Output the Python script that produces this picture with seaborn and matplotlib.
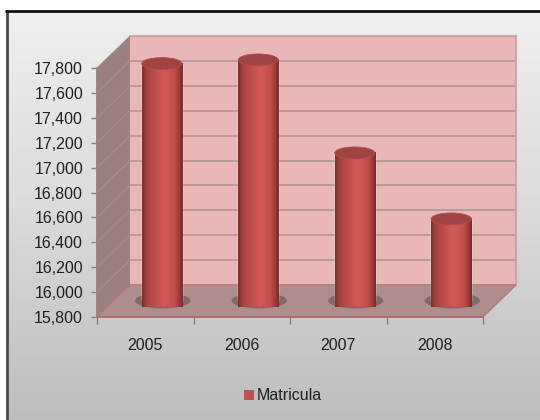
import numpy as np
import pandas as pd
import matplotlib
matplotlib.use("Agg")
import matplotlib.pyplot as plt
from matplotlib.patches import Ellipse, Polygon, Rectangle
from matplotlib.path import Path
from matplotlib.transforms import IdentityTransform
from matplotlib.colors import LinearSegmentedColormap
import seaborn as sns

years = ["2005", "2006", "2007", "2008"]
matricula = [17707, 17736, 16989, 16459]
y_ticks = list(range(15800, 17801, 200))
y_min, y_max = 15800, 17800

W, H = 540, 420

sns.set_theme(style="white")
plt.rcParams['font.family'] = ['Liberation Sans', 'DejaVu Sans']

df = pd.DataFrame({"year": years, "Matricula": matricula})

fig = plt.figure(figsize=(W / 100, H / 100), dpi=100, facecolor="white")


def px_axes(x0, y0, x1, y1, **kw):
    # pixel box measured from the top left of the picture
    return fig.add_axes([x0 / W, 1 - y1 / H, (x1 - x0) / W, (y1 - y0) / H], **kw)


# front plane of the 3d box and how far the back wall sits behind it
left, right, top, bottom = 97, 483, 68, 317
dx, dy = 33, 32

# background panel
bg = px_axes(0, 0, W, H)
bg.axis("off")
grey = LinearSegmentedColormap.from_list("panel", ["#eeefef", "#d9dada", "#bdbdbd"])
bg.imshow(np.linspace(0, 1, 256).reshape(-1, 1), cmap=grey, aspect="auto",
          extent=(7, 540, 420, 11), zorder=0)
bg.set_xlim(0, W)
bg.set_ylim(H, 0)
bg.plot([6.5, 6.5], [420, 10.5], color="#4a4a4a", lw=2, zorder=1)
bg.plot([6, 540], [10.5, 10.5], color="#111111", lw=2, zorder=1)

# back wall
ax_back = px_axes(left + dx, top - dy, right + dx, bottom - dy)
ax_back.set_facecolor("#e9b7b7")
ax_back.set_ylim(y_min, y_max)
ax_back.set_xlim(0, 1)
ax_back.set_yticks(y_ticks)
ax_back.set_xticks([])
ax_back.tick_params(left=False, labelleft=False)
ax_back.grid(axis="y", color="#b29494", lw=1.2)
ax_back.set_axisbelow(True)
for s in ax_back.spines.values():
    s.set_visible(False)
for s in ["top", "right"]:
    ax_back.spines[s].set_visible(True)
    ax_back.spines[s].set_color("#cc9f9f")

# side wall and floor, with the gridlines running back along the wall
scale = (bottom - top) / (y_max - y_min)
bg.add_patch(Polygon([(left, top), (left + dx, top - dy), (left + dx, bottom - dy), (left, bottom)],
                     closed=True, facecolor="#9c7f7f", edgecolor="#a58787", lw=0.6, zorder=2))
for t in y_ticks[1:-1]:
    yy = bottom - (t - y_min) * scale
    bg.plot([left, left + dx], [yy, yy - dy], color="#a98d8d", lw=0.8, zorder=3)
bg.set_zorder(0)
ax_back.set_zorder(1)

ax_floor = px_axes(0, 0, W, H)
ax_floor.set_xlim(0, W)
ax_floor.set_ylim(H, 0)
ax_floor.axis("off")
ax_floor.set_zorder(2)
ax_floor.add_patch(Polygon([(left, bottom), (right, bottom), (right + dx, bottom - dy), (left + dx, bottom - dy)],
                           closed=True, facecolor="#b08d8d", edgecolor="#b5797c", lw=0.9))

# front axes carries the ticks and labels
ax = px_axes(left, top, right, bottom)
ax.set_zorder(3)
ax.patch.set_alpha(0)
ax.set_xlim(-0.5, 3.5)
ax.set_ylim(y_min, y_max)
ax.set_yticks(y_ticks)
ax.set_yticklabels([f"{t:,}" for t in y_ticks], fontsize=11.5, color="#1f1f1f")
ax.set_xticks(range(4))
ax.set_xticklabels(years, fontsize=11.5, color="#1f1f1f")
ax.set_xticks(np.arange(-0.5, 4), minor=True)
ax.tick_params(axis="x", which="major", length=0, pad=15)
ax.tick_params(axis="x", which="minor", length=5, width=1, color="#808080", bottom=True)
ax.tick_params(axis="y", length=4, width=1, color="#808080", left=True, pad=6)
for s in ["top", "right"]:
    ax.spines[s].set_visible(False)
ax.spines["left"].set_color("#9a8080")
ax.spines["bottom"].set_color("#b5696d")
ax.spines["bottom"].set_linewidth(1.2)

# cylinders stand in the middle of the depth
ax_bar = px_axes(left + dx / 2, top - dy / 2, right + dx / 2, bottom - dy / 2)
ax_bar.set_zorder(4)
ax_bar.patch.set_alpha(0)
sns.barplot(data=df, x="year", y="Matricula", color="#c0504d", width=0.415,
            saturation=1, ax=ax_bar, label="Matricula")
handles, labels = ax_bar.get_legend_handles_labels()
if ax_bar.get_legend():
    ax_bar.get_legend().remove()
ax_bar.set_xlim(-0.5, 3.5)
ax_bar.set_ylim(y_min, y_max)
ax_bar.axis("off")

scale_mid = (y_max - y_min) / (bottom - top)
ell_h = 12 * scale_mid
body = LinearSegmentedColormap.from_list(
    "cyl", [(0, "#7a2f2d"), (0.12, "#a8423f"), (0.35, "#c5504d"), (0.55, "#d25a58"),
            (0.8, "#c04e4b"), (0.92, "#983b39"), (1, "#6e302e")])
for patch, val in zip(ax_bar.patches, matricula):
    x0, w = patch.get_x(), patch.get_width()
    cx = x0 + w / 2
    ax_bar.add_patch(Ellipse((cx + 0.01, y_min + ell_h * 0.03), w * 1.38, ell_h * 1.3, facecolor="#75605f",
                             edgecolor="none", alpha=0.8, clip_on=False, zorder=2))
    patch.set_zorder(3)
    ax_bar.add_patch(Ellipse((cx, y_min), w, ell_h, facecolor="#c0504d", edgecolor="none",
                             clip_on=False, zorder=3))
    im = ax_bar.imshow(np.linspace(0, 1, 128).reshape(1, -1), cmap=body, aspect="auto",
                       extent=(x0, x0 + w, y_min - ell_h / 2, val), zorder=4, clip_on=False)
    ax_bar.add_patch(Ellipse((cx, val), w, ell_h, facecolor="#a04442", edgecolor="#b54c4a",
                             lw=0.6, clip_on=False, zorder=5))
    # round off the foot of the cylinder with the same shading
    foot = Ellipse((cx, y_min), w, ell_h, transform=ax_bar.transData)
    rect = Rectangle((x0, y_min), w, val - y_min, transform=ax_bar.transData)
    clip = Path.make_compound_path(rect.get_path().transformed(rect.get_transform()),
                                   foot.get_path().transformed(foot.get_transform()))
    im.set_clip_path(clip, transform=IdentityTransform())
ax_bar.set_xlim(-0.5, 3.5)
ax_bar.set_ylim(y_min, y_max)

# legend sits under the plot
leg = fig.legend(handles, labels, loc="center", bbox_to_anchor=(283 / W, 1 - 396 / H),
                 frameon=False, fontsize=11.5, handlelength=0.62, handleheight=0.62,
                 handletextpad=0.15, labelcolor="#1f1f1f")
for h in leg.legend_handles:
    h.set_edgecolor("none")

fig.savefig("out.png", dpi=100, facecolor="white")
